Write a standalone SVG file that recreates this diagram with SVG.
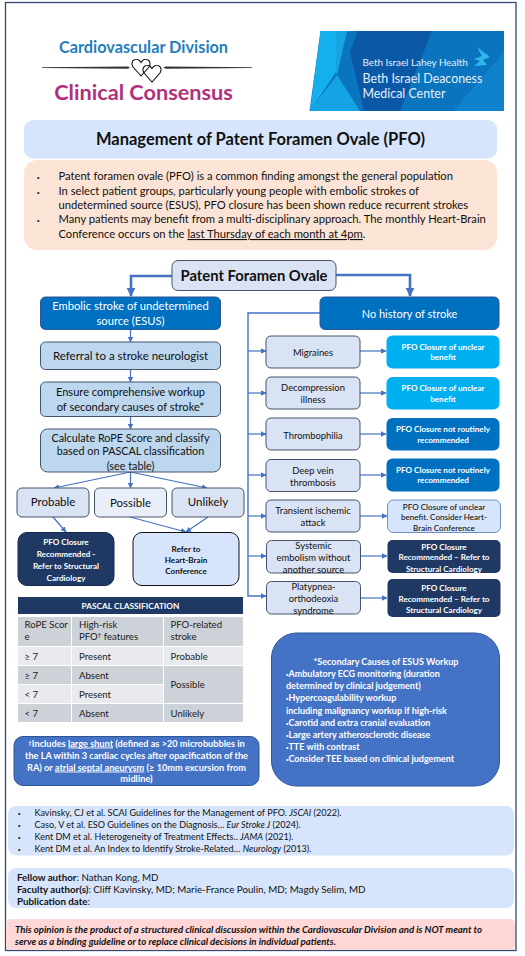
<svg xmlns="http://www.w3.org/2000/svg" width="525" height="956" viewBox="0 0 525 956">
<style>
text{font-family:"Lato","Open Sans","Liberation Sans",sans-serif;fill:#111}
.c{text-anchor:middle}
.w{fill:#fff}
.b{font-weight:700}
.n{stroke:#44546A;stroke-width:1}
.lb{fill:#BDD7EE}
.pl{fill:#DAE3F3}
.t11{font-size:11.5px}
.t10{font-size:9.4px}
.t8{font-size:8.100px;font-weight:700}
.t9{font-size:9.050px}
.con{fill:none;stroke:#4472C4;stroke-width:1.2}
.thick{fill:none;stroke:#4472C4;stroke-width:2.6}
.tab{font-size:9.600px;fill:#222}
.dot{font-family:"Liberation Sans",sans-serif;font-size:7px}
</style>
<defs>
<marker id="a" viewBox="0 0 6 6" refX="5.5" refY="3" markerWidth="5.5" markerHeight="5.5" markerUnits="userSpaceOnUse" orient="auto"><path d="M0 0L6 3L0 6Z" fill="#4472C4"/></marker>
<marker id="A" viewBox="0 0 6 6" refX="5.5" refY="3" markerWidth="9" markerHeight="9" markerUnits="userSpaceOnUse" orient="auto"><path d="M0 0L6 3L0 6Z" fill="#4472C4"/></marker>
</defs>
<rect width="525" height="956" fill="#fff"/>
<rect x="5.5" y="2.5" width="510.500" height="948" fill="#fff" stroke="#2F4A75" stroke-width="1.300"/>

<g id="header">
<text x="143.500" y="52.500" class="c b" font-size="16.300" style="fill:#1F80BD">Cardiovascular Division</text>
<path d="M42 67.300L128 66.500L130 67.500L128 68.700L42 68ZM252 67.300L166 66.500L163 67.500L166 68.700L252 68Z" fill="#333"/>
<path d="M141 76L133 67C129 61 137 56 141 62.500C145 56 153 61 149 67Z" fill="none" stroke="#111" stroke-width="1.100"/>
<path d="M152 82L144 73C140 67 148 62 152 68.500C156 62 164 67 160 73Z" fill="none" stroke="#111" stroke-width="1.100"/>
<text x="143.500" y="100" class="c b" font-size="21.700" style="fill:#B0307C">Clinical Consensus</text>
</g>

<g id="logo">
<path d="M320.500 31H504V111H309.500Z" fill="#0A74BE"/>
<path d="M320.500 31H347L337 75L360 111H309.500L337 75Z" fill="#14A4E4"/>
<path d="M320.500 31H336V72L310 111Z" fill="#14B0EE"/>
<path d="M358 31H432L400 111H364L350 52Z" fill="#0B58A6"/>
<path d="M453 111L504 52V111Z" fill="#0E82CC"/>
<path d="M477 47L490 57L483 60L487 65L474 66L480 61L474 59L482 56Z" fill="#2FB6EC"/>
<text x="362.500" y="66" style="fill:#E3F1FB;font-size:9.900px">Beth Israel Lahey Health</text>
<text x="362.500" y="82.500" style="fill:#E3F1FB;font-size:12.400px">Beth Israel Deaconess</text>
<text x="362.500" y="97.500" style="fill:#E3F1FB;font-size:12.400px">Medical Center</text>
</g>

<g id="title">
<rect x="24" y="120" width="473" height="38.500" rx="9" fill="#D6E5FC"/>
<text x="260.500" y="145" class="c b" font-size="16.500">Management of Patent Foramen Ovale (PFO)</text>
</g>

<g id="intro">
<rect x="24" y="160" width="473" height="90" rx="13" fill="#FBE4D5"/>
<g style="font-size:11.200px">
<text x="37" y="180" class="dot">•</text><text x="58.500" y="180">Patent foramen ovale (PFO) is a common finding amongst the general population</text>
<text x="37" y="195" class="dot">•</text><text x="58.500" y="195">In select patient groups, particularly young people with embolic strokes of</text>
<text x="58.500" y="209">undetermined source (ESUS), PFO closure has been shown reduce recurrent strokes</text>
<text x="37" y="223" class="dot">•</text><text x="58.500" y="223">Many patients may benefit from a multi-disciplinary approach. The monthly Heart-Brain</text>
<text x="58.500" y="238">Conference occurs on the <tspan text-decoration="underline">last Thursday of each month at 4pm</tspan>.</text>
</g>
</g>

<g id="connectors">
<path class="thick" d="M172 276H131V296" marker-end="url(#A)"/>
<path class="thick" d="M336 275H410V296" marker-end="url(#A)"/>
<path class="con" d="M130.500 329.500V342" marker-end="url(#a)"/>
<path class="con" d="M130.500 369.500V382" marker-end="url(#a)"/>
<path class="con" d="M130.500 416.500V429" marker-end="url(#a)"/>
<path class="con" d="M130.500 472V488" marker-end="url(#a)"/>
<path class="con" d="M130.500 472L54 488" marker-end="url(#a)"/>
<path class="con" d="M130.500 472L207 488" marker-end="url(#a)"/>
<path class="con" d="M53 517L66 532" marker-end="url(#a)"/>
<path class="con" d="M130 517L186 532" marker-end="url(#a)"/>
<path class="con" d="M208 517L186 532" marker-end="url(#a)"/>
<path class="con" style="stroke-width:1.400" d="M320 313H248V596H266" marker-end="url(#a)"/>
<path class="con" d="M248 351H266" marker-end="url(#a)"/>
<path class="con" d="M248 393H266" marker-end="url(#a)"/>
<path class="con" d="M248 434H266" marker-end="url(#a)"/>
<path class="con" d="M248 475H266" marker-end="url(#a)"/>
<path class="con" d="M248 516H266" marker-end="url(#a)"/>
<path class="con" d="M248 556H266" marker-end="url(#a)"/>
<path class="con" d="M360 351H386" marker-end="url(#a)"/>
<path class="con" d="M360 393H386" marker-end="url(#a)"/>
<path class="con" d="M360 434H386" marker-end="url(#a)"/>
<path class="con" d="M360 475H386" marker-end="url(#a)"/>
<path class="con" d="M360 516H387" marker-end="url(#a)"/>
<path class="con" d="M361 556H387" marker-end="url(#a)"/>
<path class="con" d="M361 598H387" marker-end="url(#a)"/>
</g>

<g id="pfo"><rect class="n pl" x="172" y="260.500" width="164" height="30" rx="6"/><text x="254" y="281" class="c b" font-size="14.800">Patent Foramen Ovale</text></g>
<g id="esus"><rect x="40.500" y="297" width="180" height="32.500" rx="5" fill="#0070C0" stroke="#2F5597"/><g style="font-size:11.200px"><text x="130.500" y="310" class="c w">Embolic stroke of undetermined</text><text x="130.500" y="325" class="c w">source (ESUS)</text></g></g>
<g id="referral"><rect class="n lb" x="40.500" y="342" width="180" height="27.500" rx="5"/><text x="130.500" y="360" class="c t11">Referral to a stroke neurologist</text></g>
<g id="ensure"><rect class="n lb" x="40.500" y="382" width="180" height="34.500" rx="5"/><g style="font-size:11.100px"><text x="130.500" y="396" class="c">Ensure comprehensive workup</text><text x="130.500" y="411" class="c">of secondary causes of stroke*</text></g></g>
<g id="calc"><rect class="n lb" x="40.500" y="429" width="180" height="43" rx="7"/><g style="font-size:10.800px"><text x="130.500" y="441.500" class="c">Calculate RoPE Score and classify</text><text x="130.500" y="455" class="c">based on PASCAL classification</text><text x="130.500" y="470" class="c">(see table)</text></g></g>
<g id="probable"><rect class="n pl" x="17" y="488" width="72" height="29" rx="5"/><text x="53" y="506" class="c t11">Probable</text></g>
<g id="possible"><rect class="n" fill="#E9EFF9" x="94.500" y="488" width="72" height="29" rx="5"/><text x="130.500" y="507" class="c t11">Possible</text></g>
<g id="unlikely"><rect class="n pl" x="172" y="488" width="72" height="29" rx="5"/><text x="208" y="506" class="c t11">Unlikely</text></g>
<g id="rec1"><rect x="18" y="532.500" width="96" height="53" rx="9" fill="#1F3864" stroke="#17294B"/><text x="66" y="544.500" class="c t8 w">PFO Closure</text><text x="66" y="556.500" class="c t8 w">Recommended -</text><text x="66" y="568.500" class="c t8 w">Refer to Structural</text><text x="66" y="580.500" class="c t8 w">Cardiology</text></g>
<g id="heartbrain"><rect x="133" y="532.500" width="106" height="53" rx="9" fill="#D6E5FC" stroke="#111"/><text x="186" y="551.500" class="c t8">Refer to</text><text x="186" y="563" class="c t8">Heart-Brain</text><text x="186" y="574" class="c t8">Conference</text></g>

<g id="nohistory"><rect x="320" y="297" width="179" height="32.500" rx="5" fill="#0070C0" stroke="#2F5597"/><text x="409.500" y="317.500" class="c w" font-size="11">No history of stroke</text></g>

<g id="migraines"><rect class="n pl" x="266" y="336" width="94" height="32" rx="5"/><text x="313" y="356" class="c t10">Migraines</text></g>
<g id="decomp"><rect class="n pl" x="266" y="377" width="94" height="32" rx="5"/><text x="313" y="391" class="c t10">Decompression</text><text x="313" y="403" class="c t10">illness</text></g>
<g id="thrombo"><rect class="n pl" x="266" y="418" width="94" height="32" rx="5"/><text x="313" y="439" class="c t10">Thrombophilia</text></g>
<g id="dvt"><rect class="n pl" x="266" y="459.500" width="94" height="32" rx="5"/><text x="313" y="473.500" class="c t10">Deep vein</text><text x="313" y="485.500" class="c t10">thrombosis</text></g>
<g id="tia"><rect class="n pl" x="266" y="500" width="94" height="32" rx="5"/><text x="313" y="514" class="c t10">Transient ischemic</text><text x="313" y="526" class="c t10">attack</text></g>
<g id="systemic"><rect class="n pl" x="266.500" y="540.500" width="94" height="32.500" rx="5"/><text x="313.500" y="549" class="c t10">Systemic</text><text x="313.500" y="561" class="c t10">embolism without</text><text x="313.500" y="573" class="c t10">another source</text></g>
<g id="platy"><rect class="n pl" x="266.500" y="581.500" width="94" height="32.500" rx="5"/><text x="313.500" y="590" class="c t10">Platypnea-</text><text x="313.500" y="602" class="c t10">orthodeoxia</text><text x="313.500" y="614" class="c t10">syndrome</text></g>

<g id="r1"><rect x="386.500" y="335.500" width="113" height="33" rx="6" fill="#00B0F0"/><text x="443" y="350" class="c t8 w">PFO Closure of unclear</text><text x="443" y="360" class="c t8 w">benefit</text></g>
<g id="r2"><rect x="386.500" y="377" width="113" height="32.500" rx="6" fill="#00B0F0"/><text x="443" y="391" class="c t8 w">PFO Closure of unclear</text><text x="443" y="402" class="c t8 w">benefit</text></g>
<g id="r3"><rect x="386.500" y="418" width="113" height="32.500" rx="6" fill="#0070C0"/><text x="443" y="432" class="c t8 w">PFO Closure not routinely</text><text x="443" y="443" class="c t8 w">recommended</text></g>
<g id="r4"><rect x="386.500" y="458.500" width="113" height="33" rx="6" fill="#0070C0"/><text x="443" y="473" class="c t8 w">PFO Closure not routinely</text><text x="443" y="483" class="c t8 w">recommended</text></g>
<g id="r5"><rect x="387.500" y="500" width="113" height="32.500" rx="6" fill="#D6E5FC" stroke="#6F8FC0"/><text x="444" y="509.500" class="c t8" style="font-weight:500">PFO Closure of unclear</text><text x="444" y="520" class="c t8" style="font-weight:500">benefit. Consider Heart-</text><text x="444" y="531" class="c t8" style="font-weight:500">Brain Conference</text></g>
<g id="r6"><rect x="387.500" y="540" width="113" height="33" rx="5" fill="#1F3864"/><text x="444" y="549.500" class="c t8 w">PFO Closure</text><text x="444" y="560" class="c t8 w">Recommended – Refer to</text><text x="444" y="571.500" class="c t8 w">Structural Cardiology</text></g>
<g id="r7"><rect x="387.500" y="579" width="113" height="38" rx="5" fill="#1F3864"/><text x="444" y="591" class="c t8 w">PFO Closure</text><text x="444" y="602" class="c t8 w">Recommended – Refer to</text><text x="444" y="613" class="c t8 w">Structural Cardiology</text></g>

<g id="table">
<rect x="18" y="597" width="225" height="17" fill="#1F3864"/>
<text x="130.500" y="609" class="c t8 w" style="font-size:8.300px">PASCAL CLASSIFICATION</text>
<g fill="#CDD1D8">
<rect x="18" y="617" width="53" height="29"/><rect x="72" y="617" width="91" height="29"/><rect x="164" y="617" width="79" height="29"/>
<rect x="18" y="666" width="53" height="18"/><rect x="72" y="666" width="91" height="18"/><rect x="164" y="666" width="79" height="37"/>
<rect x="18" y="704" width="53" height="18"/><rect x="72" y="704" width="91" height="18"/><rect x="164" y="704" width="79" height="18"/>
</g>
<g fill="#E8EAED">
<rect x="18" y="647" width="53" height="18"/><rect x="72" y="647" width="91" height="18"/><rect x="164" y="647" width="79" height="18"/>
<rect x="18" y="685" width="53" height="18"/><rect x="72" y="685" width="91" height="18"/>
</g>
<text x="24.500" y="628" class="tab">RoPE Scor</text><text x="24.500" y="640" class="tab">e</text>
<text x="79" y="628" class="tab">High-risk</text><text x="79" y="640" class="tab">PFO<tspan font-size="6" dy="-3">†</tspan><tspan dy="3"> features</tspan></text>
<text x="170.500" y="628" class="tab">PFO-related</text><text x="170.500" y="640" class="tab">stroke</text>
<text x="24.500" y="659.500" class="tab">≥ 7</text><text x="79" y="659.500" class="tab">Present</text><text x="170.500" y="659.500" class="tab">Probable</text>
<text x="24.500" y="679" class="tab">≥ 7</text><text x="79" y="679" class="tab">Absent</text><text x="170.500" y="688" class="tab">Possible</text>
<text x="24.500" y="698" class="tab">&lt; 7</text><text x="79" y="698" class="tab">Present</text>
<text x="24.500" y="717" class="tab">&lt; 7</text><text x="79" y="717" class="tab">Absent</text><text x="170.500" y="717" class="tab">Unlikely</text>
</g>

<g id="footnote">
<rect x="14" y="736.500" width="245" height="49" rx="9" fill="#4472C4" stroke="#2F5597"/>
<g class="b" style="font-size:9.200px">
<text x="136.500" y="746.500" class="c w"><tspan font-size="6" dy="-2">†</tspan><tspan dy="2">Includes </tspan><tspan text-decoration="underline">large shunt</tspan> (defined as &gt;20 microbubbles in</text>
<text x="136.500" y="758.500" class="c w">the LA within 3 cardiac cycles after opacification of the</text>
<text x="136.500" y="770.500" class="c w">RA) or <tspan text-decoration="underline">atrial septal aneurysm</tspan> (≥ 10mm excursion from</text>
<text x="136.500" y="782" class="c w">midline)</text>
</g>
</g>

<g id="secondary">
<rect x="271.500" y="633" width="228" height="153" rx="25" fill="#4472C4" stroke="#2F5597"/>
<g class="b" style="font-size:9px">
<text x="386" y="665" class="c w">*Secondary Causes of ESUS Workup</text>
<text x="286" y="677" class="w"><tspan class="dot w" font-size="6">•</tspan>Ambulatory ECG monitoring (duration</text>
<text x="286" y="689" class="w">determined by clinical judgement)</text>
<text x="286" y="701" class="w"><tspan class="dot w">•</tspan>Hypercoagulability workup</text>
<text x="286" y="713.500" class="w">including malignancy workup if high-risk</text>
<text x="286" y="725.500" class="w"><tspan class="dot w">•</tspan>Carotid and extra cranial evaluation</text>
<text x="286" y="737.500" class="w"><tspan class="dot w">•</tspan>Large artery atherosclerotic disease</text>
<text x="286" y="749.500" class="w"><tspan class="dot w">•</tspan>TTE with contrast</text>
<text x="286" y="761.500" class="w"><tspan class="dot w">•</tspan>Consider TEE based on clinical judgement</text>
</g>
</g>

<g id="references">
<rect x="8" y="806" width="506" height="49.500" rx="8" fill="#D6E5FC"/>
<g class="t9">
<text x="18" y="816" class="dot">•</text><text x="34.500" y="816">Kavinsky, CJ et al. SCAI Guidelines for the Management of PFO. <tspan font-style="italic">JSCAI</tspan> (2022).</text>
<text x="18" y="828" class="dot">•</text><text x="34.500" y="828">Caso, V et al. ESO Guidelines on the Diagnosis… <tspan font-style="italic">Eur Stroke J</tspan> (2024).</text>
<text x="18" y="840" class="dot">•</text><text x="34.500" y="840">Kent DM et al. Heterogeneity of Treatment Effects.. <tspan font-style="italic">JAMA</tspan> (2021).</text>
<text x="18" y="852" class="dot">•</text><text x="34.500" y="852">Kent DM et al. An Index to Identify Stroke-Related… <tspan font-style="italic">Neurology</tspan> (2013).</text>
</g>
</g>

<g id="authors">
<rect x="8" y="868" width="506" height="40" rx="8" fill="#D6E5FC"/>
<g style="font-size:9.750px">
<text x="17" y="880.500"><tspan class="b">Fellow author</tspan>: Nathan Kong, MD</text>
<text x="17" y="893"><tspan class="b">Faculty author(s)</tspan>:  Cliff Kavinsky, MD; Marie-France Poulin, MD; Magdy Selim, MD</text>
<text x="17" y="905"><tspan class="b">Publication date</tspan>:</text>
</g>
</g>

<g id="disclaimer">
<rect x="6" y="919" width="509" height="31" rx="5" fill="#FFD7D7"/>
<g class="b" style="font-size:9.600px;font-style:italic">
<text x="15" y="933">This opinion is the product of a structured clinical discussion within the Cardiovascular Division and is NOT meant to</text>
<text x="15" y="945">serve as a binding guideline or to replace clinical decisions in individual patients.</text>
</g>
</g>
</svg>
